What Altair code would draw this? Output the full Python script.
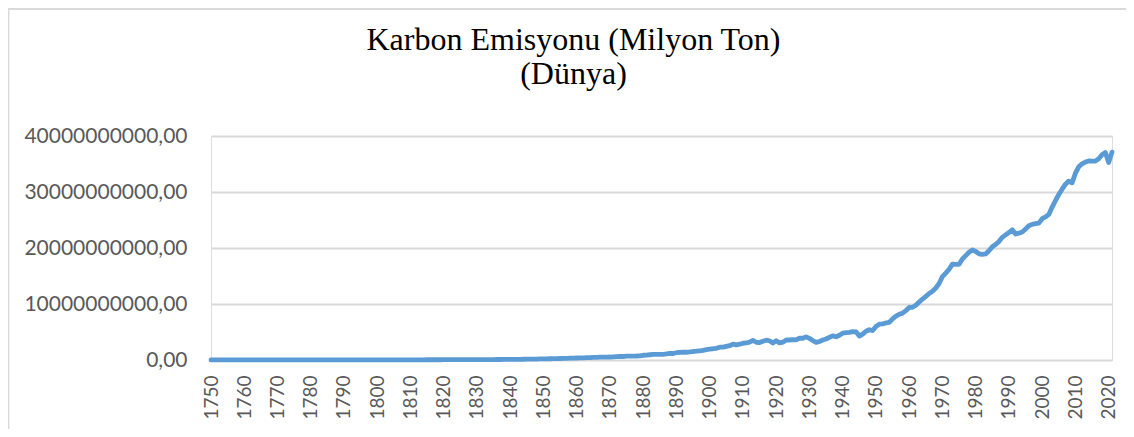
import altair as alt
import pandas as pd

# World CO2 emissions, million tonnes, one value per year 1750-2021
years = list(range(1750, 2022))
emissions_mt = [
    9.35, 9.35, 9.35, 9.36, 9.37, 9.39, 10.1, 10.1, 10.2, 10.3,
    10.7, 10.8, 10.9, 11.0, 11.1, 11.3, 11.4, 11.6, 11.8, 11.9,
    12.0, 12.2, 12.4, 12.6, 12.8, 13.1, 13.3, 13.6, 13.9, 14.2,
    14.5, 14.9, 15.2, 15.6, 16.0, 16.4, 16.8, 17.3, 17.8, 18.2,
    18.5, 19.5, 20.5, 21.3, 22.0, 22.8, 23.6, 24.5, 25.5, 26.8,
    28.2, 28.9, 30.1, 30.7, 31.4, 32.0, 32.9, 33.8, 34.4, 35.0,
    35.6, 36.8, 37.9, 39.0, 40.2, 41.6, 43.1, 44.8, 46.9, 48.8,
    50.7, 51.7, 53.1, 54.5, 56.3, 58.6, 59.8, 61.7, 63.5, 65.7,
    68.1, 70.2, 73.0, 75.9, 79.2, 82.5, 86.4, 90.3, 94.8, 99.7,
    105.1, 110.2, 116.4, 122.5, 130.2, 138.6, 148.0, 160.1, 173.2, 184.9,
    196.6, 208.9, 222.7, 237.4, 257.3, 271.8, 290.1, 303.5, 318.2, 338.6,
    361.1, 380.2, 392.4, 411.3, 436.8, 460.1, 474.6, 498.1, 508.3, 525.2,
    531.8, 572.0, 621.5, 658.2, 624.4, 680.1, 689.9, 700.3, 711.2, 752.6,
    846.8, 883.5, 939.0, 995.2, 1003.7, 1015.5, 1022.1, 1077.4, 1164.8, 1160.2,
    1300.5, 1379.4, 1400.3, 1380.9, 1436.3, 1517.0, 1570.4, 1643.9, 1724.3, 1863.4,
    1950, 2010, 2090, 2290, 2290, 2430, 2550, 2830, 2700, 2820,
    2990, 3040, 3190, 3490, 3170, 3110, 3350, 3530, 3430, 3030,
    3460, 3050, 3180, 3580, 3570, 3640, 3610, 3880, 3880, 4130,
    3860, 3480, 3140, 3310, 3570, 3750, 4060, 4310, 4140, 4420,
    4790, 4870, 4930, 5060, 5040, 4270, 4620, 5130, 5400, 5250,
    6000, 6390, 6460, 6610, 6720, 7350, 7850, 8150, 8370, 8810,
    9390, 9410, 9780, 10340, 10890, 11360, 11880, 12270, 12850, 13660,
    14900, 15520, 16200, 17120, 17060, 17090, 18030, 18630, 19250, 19670,
    19380, 18960, 18850, 18930, 19540, 20210, 20620, 21160, 21900, 22340,
    22760, 23240, 22490, 22650, 22860, 23400, 23980, 24220, 24340, 24440,
    25230, 25540, 25990, 27310, 28460, 29550, 30510, 31390, 31950, 31640,
    33360, 34490, 35040, 35340, 35550, 35520, 35510, 35930, 36650, 37040,
    35260, 37120,
]

x_ticks = list(range(1750, 2021, 10))
y_ticks = [0, 10_000_000_000, 20_000_000_000, 30_000_000_000, 40_000_000_000]
title_lines = ["Karbon Emisyonu (Milyon Ton)", "(Dünya)"]

df = pd.DataFrame({"Yil": years, "Emisyon": [v * 1e6 for v in emissions_mt]})

GRAY_TXT = "#595959"
GRID = "#d9d9d9"

line = alt.Chart(df).mark_line(
    color="#5B9BD5", strokeWidth=4.8, strokeCap="round", strokeJoin="round"
).encode(
    x=alt.X(
        "Yil:Q",
        scale=alt.Scale(domain=[1750, 2021], nice=False, zero=False),
        axis=alt.Axis(
            values=x_ticks, format="d", labelAngle=270, grid=False, domain=False,
            ticks=False, labelPadding=15, labelFont="Lato", labelFontSize=19,
            labelColor=GRAY_TXT, title=None, labelOverlap=False,
        ),
    ),
    y=alt.Y(
        "Emisyon:Q",
        scale=alt.Scale(domain=[0, 40_000_000_000], nice=False),
        axis=alt.Axis(
            values=y_ticks, grid=True, gridColor=GRID, gridWidth=1.8, domain=False,
            ticks=False, labelPadding=24, labelFont="Lato", labelFontSize=21,
            labelColor=GRAY_TXT, title=None,
            labelExpr="replace(format(datum.value, '.2f'), '.', ',')",
        ),
    ),
)

frame = alt.Chart(pd.DataFrame({"f": [0]})).mark_rect(
    fill="transparent", stroke=GRID, strokeWidth=1.8
).encode(
    x=alt.value(-202.5), x2=alt.value(1300), y=alt.value(-127), y2=alt.value(500)
)

chart = alt.layer(frame, line).properties(
    width=901,
    height=224,
    title=alt.TitleParams(
        text=title_lines, font="Liberation Serif", fontSize=32, fontWeight="normal",
        color="black", anchor="middle", dx=-88, baseline="alphabetic", offset=0,
        dy=108, lineHeight=34,
    ),
    autosize=alt.AutoSizeParams(type="none"),
    padding={"left": 203, "top": 128, "right": 14, "bottom": 69},
).configure_view(stroke=None).configure(background="white")

chart.save("out.html", embed_options={"renderer": "svg", "actions": False})
